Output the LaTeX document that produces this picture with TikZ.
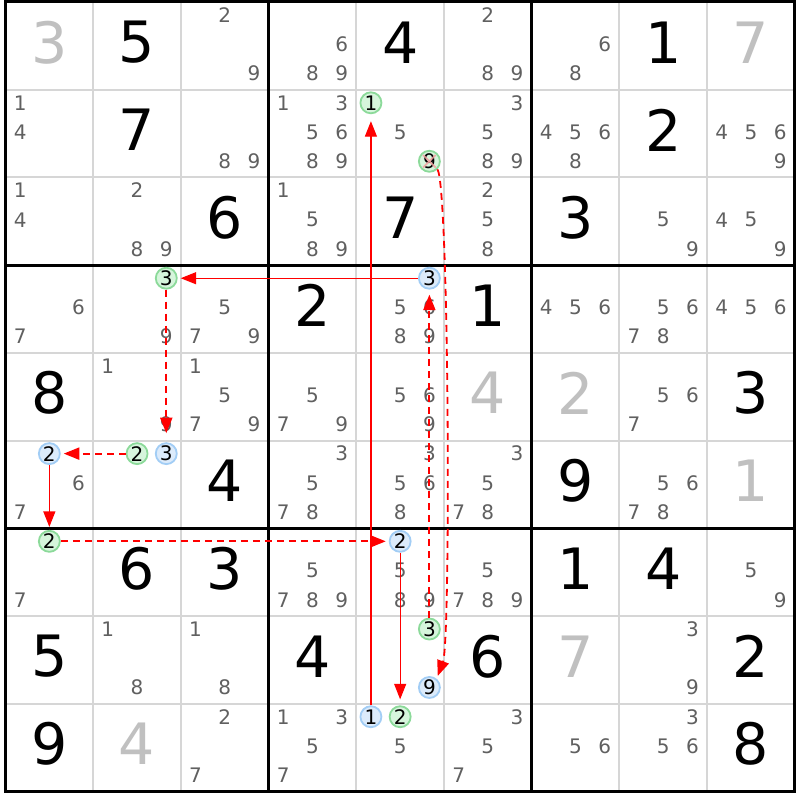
\documentclass[tikz,border=0pt]{standalone}
\usepackage{fontspec}
\setmainfont{DejaVu Sans}
\usetikzlibrary{arrows.meta}
\definecolor{thinc}{HTML}{D6D6D6}
\definecolor{candc}{HTML}{606060}
\definecolor{solvc}{HTML}{C0C0C0}
\definecolor{gline}{HTML}{8CDA9A}
\definecolor{gfill}{HTML}{D6F5DC}
\definecolor{bline}{HTML}{A2CDF5}
\definecolor{bfill}{HTML}{DCEBFB}
\definecolor{xcol}{HTML}{F2A0A0}
\newcommand\givenD[3]{\node[bigd] (g-#1-#2) at ({5.5+(#2-0.5)*87.7},{2+(#1-0.5)*87.7-3.5}) {#3};}
\newcommand\solvedD[3]{\node[bigd,text=solvc] (s-#1-#2) at ({5.5+(#2-0.5)*87.7},{2+(#1-0.5)*87.7-3.5}) {#3};}
\newcommand\candD[3]{\foreach \k in {#3}{\node[candd] (c-#1-#2-\k) at ({5.5+(#2-1)*87.7+14.62+mod(\k-1,3)*29.23},{2+(#1-1)*87.7+14.62+floor((\k-1)/3)*29.23-1.5}) {\k};}}
\newcommand\ccand[5]{\node[#1] (#2) at ({5.5+(#4-1)*87.7+14.62+mod(#5-1,3)*29.23},{2+(#3-1)*87.7+14.62+floor((#5-1)/3)*29.23-1.5}) {#5};}
\begin{document}
\begin{tikzpicture}[x=1pt,y=-1pt,
  bigd/.style={inner sep=0pt,text=black,font=\fontsize{57}{57}\selectfont},
  candd/.style={inner sep=0pt,text=candc,font=\fontsize{20}{20}\selectfont},
  gc/.style={circle,draw=gline,fill=gfill,line width=1.8pt,inner sep=0pt,minimum size=21pt,text=black,font=\fontsize{20}{20}\selectfont},
  bc/.style={circle,draw=bline,fill=bfill,line width=1.8pt,inner sep=0pt,minimum size=21pt,text=black,font=\fontsize{20}{20}\selectfont},
  strong/.style={red,line width=1.2pt,-{Triangle[length=15.5pt,width=12pt]},shorten >=3pt},
  weak/.style={red,line width=1.8pt,dash pattern=on 7pt off 5pt,-{Triangle[length=15.5pt,width=12pt]},shorten >=3pt}]
\useasboundingbox[fill=white] (0,0) rectangle (800,800);
% grid
\foreach \i in {1,2,4,5,7,8}{
  \draw[thinc,line width=2pt] ({5.5+\i*87.7},2) -- ({5.5+\i*87.7},791.3);
  \draw[thinc,line width=2pt] (5.5,{2+\i*87.7}) -- (794.8,{2+\i*87.7});
}
\foreach \i in {0,3,6,9}{
  \draw[black,line width=3pt] ({5.5+\i*87.7},0.5) -- ({5.5+\i*87.7},792.8);
  \draw[black,line width=3pt] (4,{2+\i*87.7}) -- (796.3,{2+\i*87.7});
}
% givens
\givenD{1}{2}{5}\givenD{1}{5}{4}\givenD{1}{8}{1}
\givenD{2}{2}{7}\givenD{2}{8}{2}
\givenD{3}{3}{6}\givenD{3}{5}{7}\givenD{3}{7}{3}
\givenD{4}{4}{2}\givenD{4}{6}{1}
\givenD{5}{1}{8}\givenD{5}{9}{3}
\givenD{6}{3}{4}\givenD{6}{7}{9}
\givenD{7}{2}{6}\givenD{7}{3}{3}\givenD{7}{7}{1}\givenD{7}{8}{4}
\givenD{8}{1}{5}\givenD{8}{4}{4}\givenD{8}{6}{6}\givenD{8}{9}{2}
\givenD{9}{1}{9}\givenD{9}{9}{8}
% solved
\solvedD{1}{1}{3}\solvedD{1}{9}{7}\solvedD{5}{6}{4}\solvedD{5}{7}{2}
\solvedD{6}{9}{1}\solvedD{8}{7}{7}\solvedD{9}{2}{4}
% candidates
\candD{1}{3}{2,9}\candD{1}{4}{6,8,9}\candD{1}{6}{2,8,9}\candD{1}{7}{6,8}
\candD{2}{1}{1,4}\candD{2}{3}{8,9}\candD{2}{4}{1,3,5,6,8,9}\candD{2}{5}{5}
\candD{2}{6}{3,5,8,9}\candD{2}{7}{4,5,6,8}\candD{2}{9}{4,5,6,9}
\candD{3}{1}{1,4}\candD{3}{2}{2,8,9}\candD{3}{4}{1,5,8,9}\candD{3}{6}{2,5,8}
\candD{3}{8}{5,9}\candD{3}{9}{4,5,9}
\candD{4}{1}{6,7}\candD{4}{2}{9}\candD{4}{3}{5,7,9}\candD{4}{5}{5,6,8,9}
\candD{4}{7}{4,5,6}\candD{4}{8}{5,6,7,8}\candD{4}{9}{4,5,6}
\candD{5}{2}{1,9}\candD{5}{3}{1,5,7,9}\candD{5}{4}{5,7,9}\candD{5}{5}{5,6,9}
\candD{5}{8}{5,6,7}
\candD{6}{1}{6,7}\candD{6}{4}{3,5,7,8}\candD{6}{5}{3,5,6,8}\candD{6}{6}{3,5,7,8}
\candD{6}{8}{5,6,7,8}
\candD{7}{1}{7}\candD{7}{4}{5,7,8,9}\candD{7}{5}{5,8,9}\candD{7}{6}{5,7,8,9}
\candD{7}{9}{5,9}
\candD{8}{2}{1,8}\candD{8}{3}{1,8}\candD{8}{8}{3,9}
\candD{9}{3}{2,7}\candD{9}{4}{1,3,5,7}\candD{9}{5}{5}\candD{9}{6}{3,5,7}
\candD{9}{7}{5,6}\candD{9}{8}{3,5,6}
% circled candidates
\ccand{gc}{gA}{2}{5}{1}
\ccand{gc}{gX}{2}{5}{9}
\ccand{gc}{gB}{4}{2}{3}
\ccand{gc}{gC}{6}{2}{2}
\ccand{gc}{gD}{7}{1}{2}
\ccand{gc}{gE}{9}{5}{2}
\ccand{gc}{gF}{8}{5}{3}
\ccand{bc}{bA}{9}{5}{1}
\ccand{bc}{bB}{4}{5}{3}
\ccand{bc}{bC}{6}{2}{3}
\ccand{bc}{bD}{6}{1}{2}
\ccand{bc}{bE}{7}{5}{2}
\ccand{bc}{bF}{8}{5}{9}
% elimination cross
\draw[xcol,line width=1.8pt,opacity=0.85,shorten <=2.5pt,shorten >=2.5pt] (gX.135) -- (gX.-45);
\draw[xcol,line width=1.8pt,opacity=0.85,shorten <=2.5pt,shorten >=2.5pt] (gX.45) -- (gX.-135);
% links
\draw[strong,shorten >=7pt] (bA) -- (gA);
\draw[weak] (gX.-45) .. controls (449,185) and (451,640) .. (bF.50);
\draw[strong] (bB) -- (gB);
\draw[weak,shorten >=9pt] (gB) -- (bC);
\draw[weak] (gC) -- (bD);
\draw[strong] (bD) -- (gD);
\draw[weak] (gD) -- (bE);
\draw[strong,shorten >=6pt] (bE) -- (gE);
\draw[weak,shorten >=5pt] (gF) -- (bB);
\end{tikzpicture}
\end{document}
